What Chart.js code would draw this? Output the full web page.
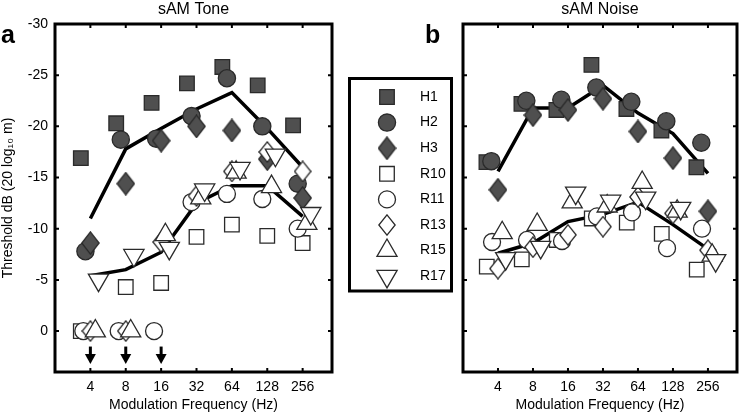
<!DOCTYPE html>
<html><head><meta charset="utf-8">
<script src="https://cdn.jsdelivr.net/npm/chart.js@4"></script>
<style>
html,body{margin:0;padding:0;background:#fff;}
#wrap{position:relative;width:750px;height:414px;overflow:hidden;background:#fff;}
canvas{position:absolute;top:0;}
#c1{left:0;}
#c2{left:345px;}
</style></head><body>
<div id="wrap"><canvas id="c1" width="345" height="414"></canvas><canvas id="c2" width="405" height="414"></canvas></div>
<script>
// ---------------- data ----------------
const freqs = [4, 8, 16, 32, 64, 128, 256];
const xTickLabels = [4, 8, 16, 32, 64, 128, 256];
const yTickValues = [-30, -25, -20, -15, -10, -5, 0];
const seriesNames = ['H1', 'H2', 'H3', 'R10', 'R11', 'R13', 'R15', 'R17'];
const floorValue = 0;
const arrowFreqs = [4, 8, 16];

// sAM Tone
const toneH1  = [-16.9, -20.3, -22.3, -24.2, -25.8, -24.0, -20.1];
const toneH2  = [-7.8, -18.7, -18.8, -21.0, -24.7, -20.0, -14.4];
const toneH3  = [-8.6, -14.4, -18.6, -20.0, -19.6, -16.8, -13.0];
const toneR10 = [0, -4.3, -4.7, -9.2, -10.4, -9.3, -8.6];
const toneR11 = [0, 0, 0, -12.6, -13.4, -12.9, -10.0];
const toneR13 = [0, 0, -8.7, -13.2, -15.6, -17.5, -15.6];
const toneR15 = [0, 0, -9.4, -13.0, -15.5, -14.1, -10.5];
const toneR17 = [-5.0, -7.4, -8.1, -13.8, -15.9, -17.2, -11.5];
const toneHMean = [-11.0, -17.8, -19.8, -21.7, -23.3, -19.8, -16.0];
const toneRMean = [-5.4, -6.0, -7.7, -12.5, -14.2, -14.2, -11.2];

// sAM Noise
const noiseH1  = [-16.5, -22.2, -21.6, -26.0, -21.7, -19.6, -16.0];
const noiseH2  = [-16.6, -22.5, -22.6, -23.8, -22.4, -20.5, -18.4];
const noiseH3  = [-13.8, -21.1, -21.6, -22.7, -19.5, -16.9, -11.7];
const noiseR10 = [-6.3, -7.0, -8.9, -11.0, -10.6, -9.5, -6.0];
const noiseR11 = [-8.7, -8.9, -8.8, -11.2, -11.6, -8.1, -10.0];
const noiseR13 = [-6.1, -8.2, -9.4, -10.2, -13.1, -11.5, -7.9];
const noiseR15 = [-9.6, -10.4, -12.6, -12.2, -14.5, -11.7, -7.4];
const noiseR17 = [-7.1, -8.2, -13.5, -12.7, -13.0, -12.0, -6.9];
const noiseHMean = [-15.6, -21.8, -21.8, -24.0, -21.3, -19.3, -15.4];
const noiseRMean = [-7.6, -8.6, -10.7, -11.4, -12.6, -10.4, -8.0];

// ---------------- style ----------------
const FONT = "'Liberation Sans', Arial, Helvetica, sans-serif";
Chart.defaults.font.family = FONT;
Chart.defaults.color = '#000';
const X_MIN = 1.0, X_MAX = 8.83, Y_MIN = -30, Y_MAX = 4;
const DARK = '#4f4f4f', DARK_EDGE = '#2a2a2a', OPEN_EDGE = '#2a2a2a';

// horizontal jitter (octaves) used in the figure to separate symbols
const jitterTone  = {H1: -0.27, H2: -0.14, H3: 0, R10: 0, R11: -0.14, R13: 0, R15: 0.12, R17: 0.23};
const jitterToneFloor = {R10: -0.27, R11: -0.2, R13: 0, R15: 0.14, R17: 0.23};
const jitterNoise = {H1: -0.33, H2: -0.19, H3: 0, R10: -0.32, R11: -0.17, R13: 0, R15: 0.12, R17: 0.22};

function makeDiamond(w, h, fill, stroke, lw) {
  const c = document.createElement('canvas');
  c.width = w; c.height = h;
  const g = c.getContext('2d');
  const m = lw / 2 + 0.2;
  g.beginPath();
  g.moveTo(w / 2, m); g.lineTo(w - m, h / 2); g.lineTo(w / 2, h - m); g.lineTo(m, h / 2);
  g.closePath();
  g.fillStyle = fill; g.fill();
  g.lineWidth = lw; g.strokeStyle = stroke; g.stroke();
  return c;
}
const diamondFilled = makeDiamond(19, 24, DARK, DARK_EDGE, 1.3);
const diamondOpen = makeDiamond(18, 22, '#ffffff', OPEN_EDGE, 1.3);

const markerStyle = {
  H1:  {pointStyle: 'rect', radius: 10.3, rotation: 0, fill: DARK, edge: DARK_EDGE},
  H2:  {pointStyle: 'circle', radius: 8.6, rotation: 0, fill: DARK, edge: DARK_EDGE},
  H3:  {pointStyle: diamondFilled, radius: 10, rotation: 0, fill: DARK, edge: DARK_EDGE},
  R10: {pointStyle: 'rect', radius: 10.3, rotation: 0, fill: '#ffffff', edge: OPEN_EDGE},
  R11: {pointStyle: 'circle', radius: 8.5, rotation: 0, fill: '#ffffff', edge: OPEN_EDGE},
  R13: {pointStyle: diamondOpen, radius: 10, rotation: 0, fill: '#ffffff', edge: OPEN_EDGE},
  R15: {pointStyle: 'triangle', radius: 11.6, rotation: 0, fill: '#ffffff', edge: OPEN_EDGE},
  R17: {pointStyle: 'triangle', radius: 11.7, rotation: 180, fill: '#ffffff', edge: OPEN_EDGE}
};

function buildDatasets(seriesValues, hMean, rMean, jitter, floorJitter) {
  const ds = seriesNames.map((name, i) => {
    const st = markerStyle[name];
    return {
      label: name,
      data: seriesValues[i].map((v, k) => {
        let j = jitter[name];
        if (floorJitter && v === floorValue && floorJitter[name] !== undefined) j = floorJitter[name];
        return {x: Math.log2(freqs[k]) + j, y: v};
      }),
      pointStyle: st.pointStyle,
      pointRadius: st.radius,
      pointRotation: st.rotation,
      pointBackgroundColor: st.fill,
      pointBorderColor: st.edge,
      pointBorderWidth: 1.3,
      backgroundColor: st.fill,
      borderColor: st.edge,
      borderWidth: 1.3,
      showLine: false,
      order: seriesNames.length - i,
      isMarker: true
    };
  });
  [hMean, rMean].forEach((m, i) => {
    ds.push({
      label: i === 0 ? 'H mean' : 'R mean',
      data: m.map((v, k) => ({x: Math.log2(freqs[k]), y: v})),
      showLine: true,
      pointRadius: 0,
      borderColor: '#000',
      backgroundColor: '#000',
      borderWidth: 3.5,
      borderJoinStyle: 'miter',
      borderCapStyle: 'butt',
      order: 100,
      isMarker: false
    });
  });
  return ds;
}

// ---------------- plugins ----------------
const framePlugin = {
  id: 'frame',
  afterDatasetsDraw(chart) {
    const {ctx, chartArea: a, scales: {x, y}} = chart;
    ctx.save();
    ctx.strokeStyle = '#000';
    ctx.lineWidth = 2;
    const tl = 4;
    ctx.beginPath();
    x.ticks.forEach(t => {
      const px = x.getPixelForValue(t.value);
      ctx.moveTo(px, a.bottom); ctx.lineTo(px, a.bottom - tl);
      ctx.moveTo(px, a.top); ctx.lineTo(px, a.top + tl);
    });
    y.ticks.forEach(t => {
      const py = y.getPixelForValue(t.value);
      ctx.moveTo(a.left, py); ctx.lineTo(a.left + tl, py);
      ctx.moveTo(a.right, py); ctx.lineTo(a.right - tl, py);
    });
    ctx.stroke();
    ctx.lineWidth = 3;
    ctx.strokeRect(a.left, a.top, a.right - a.left, a.bottom - a.top);
    ctx.restore();
  }
};

const panelLetterPlugin = {
  id: 'panelLetter',
  afterDraw(chart, args, opts) {
    if (!opts || !opts.text) return;
    const ctx = chart.ctx;
    ctx.save();
    ctx.fillStyle = '#000';
    ctx.font = 'bold 25px ' + FONT;
    ctx.textBaseline = 'alphabetic';
    ctx.textAlign = 'left';
    ctx.fillText(opts.text, opts.x, opts.y);
    ctx.restore();
  }
};

const arrowPlugin = {
  id: 'floorArrows',
  afterDatasetsDraw(chart, args, opts) {
    if (!opts || !opts.freqs) return;
    const {ctx, scales: {x, y}} = chart;
    ctx.save();
    ctx.fillStyle = '#000';
    ctx.strokeStyle = '#000';
    opts.freqs.forEach(f => {
      const px = x.getPixelForValue(Math.log2(f));
      const py = y.getPixelForValue(floorValue);
      ctx.lineWidth = 3;
      ctx.beginPath();
      ctx.moveTo(px, py + 15.5); ctx.lineTo(px, py + 25);
      ctx.stroke();
      ctx.beginPath();
      ctx.moveTo(px - 5.5, py + 23); ctx.lineTo(px + 5.5, py + 23); ctx.lineTo(px, py + 33);
      ctx.closePath();
      ctx.fill();
    });
    ctx.restore();
  }
};

const boxLegendPlugin = {
  id: 'boxLegend',
  afterDraw(chart, args, opts) {
    if (!opts || !opts.show) return;
    const ctx = chart.ctx;
    ctx.save();
    ctx.strokeStyle = '#000';
    ctx.lineWidth = 3;
    ctx.strokeRect(opts.left, opts.top, opts.right - opts.left, opts.bottom - opts.top);
    const items = chart.data.datasets.filter(d => d.isMarker);
    items.forEach((d, i) => {
      const cy = opts.firstY + i * opts.step;
      ctx.fillStyle = d.pointBackgroundColor;
      ctx.strokeStyle = d.pointBorderColor;
      ctx.lineWidth = d.pointBorderWidth;
      Chart.helpers.drawPoint(ctx, {
        pointStyle: d.pointStyle,
        rotation: d.pointRotation,
        radius: d.pointRadius,
        borderWidth: d.pointBorderWidth
      }, opts.markerX, cy);
      ctx.fillStyle = '#000';
      ctx.font = '14px ' + FONT;
      ctx.textBaseline = 'middle';
      ctx.textAlign = 'left';
      ctx.fillText(d.label, opts.textX, cy);
    });
    ctx.restore();
  }
};

function makeOptions(title, cfg) {
  return {
    responsive: false,
    animation: false,
    devicePixelRatio: 1,
    events: [],
    layout: {padding: {left: 0, right: cfg.padRight, top: 0, bottom: 0}},
    plugins: {
      legend: {display: false},
      tooltip: {enabled: false},
      title: {display: true, text: title, fullSize: false, color: '#000',
              font: {size: 16, weight: 'normal'}, padding: {top: 0, bottom: 4.8}},
      panelLetter: cfg.letter,
      floorArrows: cfg.arrows,
      boxLegend: cfg.legend
    },
    scales: {
      x: {
        type: 'linear', min: X_MIN, max: X_MAX,
        afterBuildTicks: s => { s.ticks = xTickLabels.map(f => ({value: Math.log2(f)})); },
        afterFit: s => { s.height = 42; },
        grid: {display: false, drawTicks: false},
        border: {display: false},
        ticks: {padding: 7, maxRotation: 0, autoSkip: false, color: '#000', font: {size: 14},
                callback: (v, i) => String(xTickLabels[i])},
        title: {display: true, text: 'Modulation Frequency (Hz)', color: '#000', font: {size: 14}, padding: 0}
      },
      y: {
        type: 'linear', reverse: true, min: Y_MIN, max: Y_MAX,
        afterBuildTicks: s => { s.ticks = yTickValues.map(v => ({value: v})); },
        afterFit: s => { s.width = cfg.yWidth; },
        grid: {display: false, drawTicks: false},
        border: {display: false},
        ticks: {display: cfg.showY, padding: 7, color: '#000', font: {size: 14},
                callback: v => String(v)},
        title: {display: cfg.showY, text: 'Threshold dB (20 log\u2081\u2080 m)', color: '#000',
                font: {size: 14}, padding: 0}
      }
    }
  };
}

const plugins = [framePlugin, panelLetterPlugin, arrowPlugin, boxLegendPlugin];

new Chart(document.getElementById('c1'), {
  type: 'scatter',
  data: {datasets: buildDatasets(
    [toneH1, toneH2, toneH3, toneR10, toneR11, toneR13, toneR15, toneR17],
    toneHMean, toneRMean, jitterTone, jitterToneFloor)},
  options: makeOptions('sAM Tone', {
    padRight: 5, yWidth: 55, showY: true,
    letter: {text: 'a', x: 1, y: 43},
    arrows: {freqs: arrowFreqs},
    legend: {show: false}
  }),
  plugins
});

new Chart(document.getElementById('c2'), {
  type: 'scatter',
  data: {datasets: buildDatasets(
    [noiseH1, noiseH2, noiseH3, noiseR10, noiseR11, noiseR13, noiseR15, noiseR17],
    noiseHMean, noiseRMean, jitterNoise, null)},
  options: makeOptions('sAM Noise', {
    padRight: 1.5, yWidth: 118, showY: false,
    letter: {text: 'b', x: 80, y: 43},
    arrows: {},
    legend: {show: true, left: 4.5, top: 78.5, right: 106.5, bottom: 291,
             firstY: 97, step: 25.6, markerX: 42, textX: 75}
  }),
  plugins
});
</script>
</body></html>
